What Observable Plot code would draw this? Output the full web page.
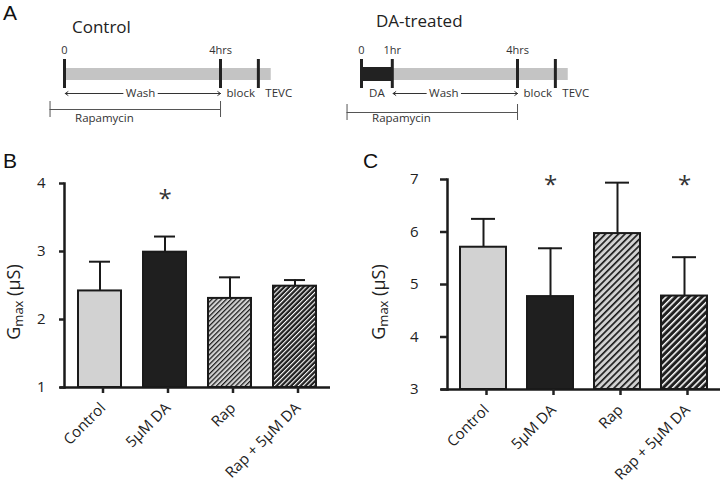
<!DOCTYPE html>
<html><head><meta charset="utf-8">
<script src="https://cdn.jsdelivr.net/npm/d3@7"></script>
<script src="https://cdn.jsdelivr.net/npm/@observablehq/plot@0.6"></script>
<style>
body{margin:0;background:#fff;}
#root{position:relative;width:720px;height:482px;overflow:hidden;font-family:"Open Sans",sans-serif;color:#222;background:#fff}
.abs{position:absolute}
.letter{font-family:"Liberation Sans",Arial,sans-serif;font-size:21px;line-height:1;color:#111}
.title{font-family:"Open Sans",sans-serif;font-size:17px;line-height:1;color:#222;white-space:nowrap}
</style></head><body><div id="root"></div>
<script>
// ---------- data ----------
const groups = ["Control", "5μM DA", "Rap", "Rap + 5μM DA"];
const gmaxB = [2.42, 2.99, 2.31, 2.49];
const semB  = [0.43, 0.23, 0.31, 0.09];
const sigB  = [false, true, false, false];
const ticksB = [1, 2, 3, 4];
const gmaxC = [5.71, 4.77, 5.97, 4.78];
const semC  = [0.54, 0.92, 0.97, 0.74];
const sigC  = [false, true, false, true];
const ticksC = [3, 4, 5, 6, 7];

// timeline (schematic hours)
const controlMarkers = [0, 4, 4.97];
const controlHourLabels = [{t: 0, label: "0"}, {t: 4, label: "4hrs"}];
const daMarkers = [0, 0.79, 4, 4.97];
const daHourLabels = [{t: 0, label: "0"}, {t: 0.79, label: "1hr"}, {t: 4, label: "4hrs"}];
const incubationEnd = 5.3;
const rapamycinStart = -0.37;
const washEnd = 4;
const blockStart = 4, tevcStart = 4.97;

const root = document.getElementById("root");
function place(node, left, top) {
  const d = document.createElement("div");
  d.className = "abs"; d.style.left = left + "px"; d.style.top = top + "px";
  d.appendChild(node); root.appendChild(d); return d;
}
function html(cls, text, left, top) {
  const d = document.createElement("div");
  d.className = "abs " + cls; d.textContent = text;
  d.style.left = left + "px"; d.style.top = top + "px"; root.appendChild(d);
}

// ---------- panel A ----------
function timeline({markers, hourLabels, daEnd, washFrom, washCenter, bracketY}) {
  const R = {hours: 50, markTop: 59, markBot: 88, barTop: 68, barBot: 80, arrow: 93, bracket: bracketY, label: 118};
  const ink = "#333";
  const fs = 11.5;
  const marks = [
    Plot.rect([{a: 0, b: incubationEnd}], {x1: "a", x2: "b", y1: R.barTop, y2: R.barBot, fill: "#c4c4c4"}),
  ];
  if (daEnd != null) {
    marks.push(Plot.rect([{a: 0, b: daEnd}], {x1: "a", x2: "b", y1: R.barTop - 1, y2: R.barBot + 1, fill: "#222"}));
    marks.push(Plot.text(["DA"], {x: daEnd / 2, y: R.arrow, text: d => d, fontSize: fs, fill: ink}));
  }
  marks.push(
    Plot.ruleX(markers, {x: d => d, y1: R.markTop, y2: R.markBot, stroke: "#222", strokeWidth: 3}),
    Plot.text(hourLabels, {x: "t", y: R.hours, text: "label", fontSize: 11, fill: ink}),
    Plot.arrow([{a: washCenter - 0.45, b: washFrom + 0.02}, {a: washCenter + 0.45, b: washEnd}],
      {x1: "a", x2: "b", y1: R.arrow, y2: R.arrow, stroke: ink, strokeWidth: 1, headLength: 5, headAngle: 70}),
    Plot.text(["Wash"], {x: washCenter, y: R.arrow, text: d => d, fontSize: fs, fill: ink}),
    Plot.text(["block"], {x: blockStart, y: R.arrow, dx: 6, text: d => d, textAnchor: "start", fontSize: fs, fill: ink}),
    Plot.text(["TEVC"], {x: tevcStart, y: R.arrow, dx: 7, text: d => d, textAnchor: "start", fontSize: fs, fill: ink}),
    Plot.ruleY([R.bracket], {x1: rapamycinStart, x2: washEnd, stroke: "#555", strokeWidth: 1}),
    Plot.ruleX([rapamycinStart, washEnd], {x: d => d, y1: R.bracket - 8, y2: R.bracket + 8, stroke: "#555", strokeWidth: 1}),
    Plot.text(["Rapamycin"], {x: rapamycinStart, y: R.label, dx: 25, text: d => d, textAnchor: "start", fontSize: fs, fill: ink})
  );
  return Plot.plot({
    width: 300, height: 130, margin: 0,
    style: {background: "transparent", overflow: "visible", fontFamily: "Open Sans"},
    x: {domain: [-1.64, 6.05], axis: null},
    y: {domain: [0, 130], range: [0, 130], axis: null},
    marks
  });
}
place(timeline({markers: controlMarkers, hourLabels: controlHourLabels, daEnd: null, washFrom: 0, washCenter: 1.95, bracketY: 109}), 0, 0);
place(timeline({markers: daMarkers, hourLabels: daHourLabels, daEnd: 0.79, washFrom: 0.79, washCenter: 2.11, bracketY: 112}), 297, 0);

// ---------- panels B & C ----------
const barFills = ["#d2d2d2", "#1f1f1f", "url(#ID-light)", "url(#ID-dark)"];
function barPanel({id, values, sems, sig, ticks, domain, starY, mL, mR, mT, mB, padIn, padOut, tickPad, capInset, period, axisExt, labelX}) {
  const data = groups.map((g, i) => ({
    g, v: values[i], top: values[i] + sems[i], sig: sig[i],
    fill: barFills[i].replace("ID", id)
  }));
  const svg = Plot.plot({
    width: 360, height: 342, marginLeft: mL, marginRight: mR, marginTop: mT, marginBottom: mB,
    style: {background: "transparent", overflow: "visible", fontFamily: "Open Sans", fontSize: "15px", color: "#222"},
    color: {type: "identity"},
    x: {domain: groups, paddingInner: padIn, paddingOuter: padOut, label: null},
    y: {domain, label: null},
    marks: [
      Plot.barY(data, {x: "g", y1: domain[0], y2: "v", fill: "fill", stroke: "#1a1a1a", strokeWidth: 2}),
      Plot.ruleX(data, {x: "g", y1: "v", y2: "top", stroke: "#1a1a1a", strokeWidth: 2}),
      Plot.tickY(data, {x: "g", y: "top", stroke: "#1a1a1a", strokeWidth: 2, insetLeft: capInset, insetRight: capInset}),
      Plot.ruleY([domain[0]], {stroke: "#1a1a1a", strokeWidth: 2.5, insetLeft: -axisExt}),
      Plot.frame({anchor: "left", stroke: "#1a1a1a", strokeWidth: 2.5}),
      Plot.axisY({ticks, tickFormat: d => String(d), tickSize: tickPad[0], tickPadding: tickPad[1], strokeWidth: 2.5, fontSize: 15, label: null}),
      Plot.axisX({tickSize: 6, tickPadding: 12, dx: 3, tickRotate: -45, strokeWidth: 2.5, fontSize: 15, label: null}),
      Plot.text(data.filter(d => d.sig), {x: "g", y: starY, dy: 6, text: () => "*", fontSize: 24, fill: "#333"})
    ]
  });
  const s = d3.select(svg);
  const defs = s.insert("defs", ":first-child");
  const mk = (name, bg, fg, w) => {
    const p = defs.append("pattern").attr("id", id + "-" + name).attr("patternUnits", "userSpaceOnUse")
      .attr("width", period).attr("height", period).attr("patternTransform", "rotate(45)");
    p.append("rect").attr("width", period).attr("height", period).attr("fill", bg);
    p.append("rect").attr("x", 0).attr("width", w).attr("height", period).attr("fill", fg);
  };
  mk("light", "#d2d2d2", "#1a1a1a", period * 0.36);
  mk("dark", "#1f1f1f", "#ffffff", period * 0.33);
  const t = s.append("text").attr("transform", `translate(${labelX},162) rotate(-90)`)
    .attr("text-anchor", "middle").attr("fill", "#222").attr("font-family", "Open Sans").attr("font-size", 18);
  t.append("tspan").text("G");
  t.append("tspan").attr("font-size", 13).attr("dy", 3).text("max");
  t.append("tspan").attr("dy", -3).text(" (μS)");
  return svg;
}
place(barPanel({id: "b", values: gmaxB, sems: semB, sig: sigB, ticks: ticksB, domain: [1, 4], starY: 3.85,
  mL: 64, mR: 30, mT: 43, mB: 95, padIn: 0.34, padOut: 0.2, tickPad: [5, 14], capInset: 11, period: 3.4, axisExt: 4, labelX: 20}), 0, 140);
place(barPanel({id: "c", values: gmaxC, sems: semC, sig: sigC, ticks: ticksC, domain: [3, 7], starY: 7.0,
  mL: 87, mR: 0, mT: 39, mB: 93, padIn: 0.32, padOut: 0.18, tickPad: [7, 22], capInset: 11, period: 4.6, axisExt: 6, labelX: 25}), 360, 140);

// ---------- text labels ----------
html("letter", "A", 3, 2);
html("letter", "B", 3, 150);
html("letter", "C", 363, 150);
html("title", "Control", 72, 18);
html("title", "DA-treated", 376, 12);
</script></body></html>
